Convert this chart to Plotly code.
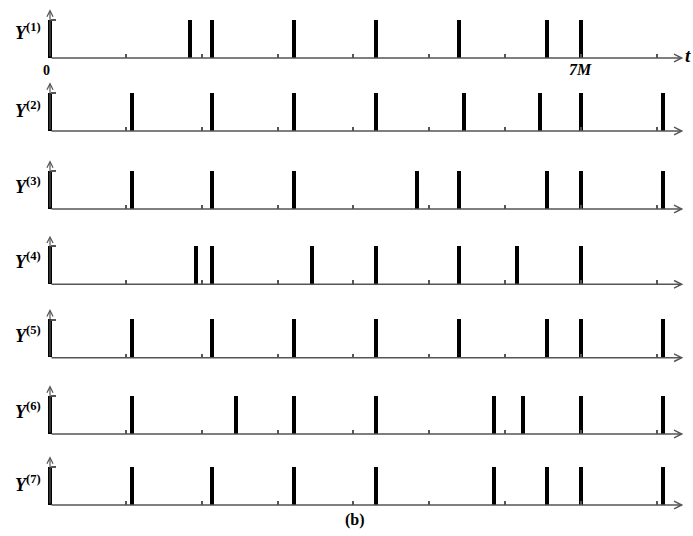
import plotly.graph_objects as go

# spike times (in units of M) for each series
row_labels = ["(1)", "(2)", "(3)", "(4)", "(5)", "(6)", "(7)"]
y1 = [0, 1.85, 2.14, 3.22, 4.30, 5.39, 6.55, 7.0]
y2 = [0, 1.08, 2.14, 3.22, 4.30, 5.46, 6.46, 7.0, 8.08]
y3 = [0, 1.08, 2.14, 3.22, 4.84, 5.39, 6.55, 7.0, 8.08]
y4 = [0, 1.92, 2.14, 3.45, 4.30, 5.39, 6.16, 7.0]
y5 = [0, 1.08, 2.14, 3.22, 4.30, 5.39, 6.55, 7.0, 8.08]
y6 = [0, 1.08, 2.45, 3.22, 4.30, 5.85, 6.23, 7.0, 8.08]
y7 = [0, 1.08, 2.14, 3.22, 4.30, 5.85, 6.55, 7.0, 8.08]
series = [y1, y2, y3, y4, y5, y6, y7]
tick_vals = [1, 2, 3, 4, 5, 6, 7, 8]
axis_labels = ["0", "7M"]
axis_label_pos = [0, 7]

W, H = 693, 536
X0 = 50.0          # pixel of t = 0
SCALE = 75.85      # pixels per M
UNIT = 38.0        # pixels per spike height
YTOP = 1.3
bases = [58, 131, 209, 284.3, 357.7, 434, 505]
label_off = [26, 21, 23, 24, 23, 24, 22]   # pixels above baseline
AX_END = 8.35
GRAY = "#555555"
SERIF = "Liberation Serif"


def px_x(t):
    return (X0 + t * SCALE) / W


fig = go.Figure()
xr = [-X0 / SCALE, (W - X0) / SCALE]
annotations = []
for i, (times, b) in enumerate(zip(series, bases)):
    n = i + 1
    xa = "x" if n == 1 else f"x{n}"
    ya = "y" if n == 1 else f"y{n}"
    fig.add_trace(go.Bar(
        x=times, y=[1] * len(times), width=0.054,
        marker=dict(color="black", line=dict(width=0)),
        xaxis=xa, yaxis=ya, showlegend=False, hoverinfo="x",
    ))
    bot = 1 - b / H
    top = 1 - (b - YTOP * UNIT) / H
    xkey = "xaxis" if n == 1 else f"xaxis{n}"
    ykey = "yaxis" if n == 1 else f"yaxis{n}"
    fig.layout[xkey] = dict(
        domain=[0, 1], range=xr, anchor=ya, showgrid=False, zeroline=False,
        showline=False, showticklabels=False, ticks="inside",
        tickvals=tick_vals, ticklen=4, tickwidth=1.5, tickcolor=GRAY,
    )
    fig.layout[ykey] = dict(
        domain=[bot, top], range=[0, YTOP], anchor="free", position=X0 / W,
        showgrid=False, zeroline=False, showline=False, showticklabels=False,
        ticks="inside", tickvals=[1], ticklen=5, tickwidth=1.5, tickcolor=GRAY,
    )
    # horizontal time axis with arrow
    annotations.append(dict(
        x=AX_END, y=0, ax=0, ay=0, xref=xa, yref=ya, axref=xa, ayref=ya,
        showarrow=True, arrowhead=5, arrowsize=1, arrowwidth=1.5,
        arrowcolor=GRAY, text="",
    ))
    # vertical amplitude axis with arrow
    annotations.append(dict(
        x=0, y=1.28, ax=0, ay=0, xref=xa, yref=ya, axref=xa, ayref=ya,
        showarrow=True, arrowhead=5, arrowsize=1, arrowwidth=1.2,
        arrowcolor=GRAY, text="",
    ))
    annotations.append(dict(
        x=43 / W, xref="paper", y=1 - (b - label_off[i]) / H, yref="paper",
        xanchor="right", yanchor="middle", showarrow=False,
        text=f"<b><i>Y</i></b><sup><b>{row_labels[i]}</b></sup>",
        font=dict(family=SERIF, size=18, color="black"),
    ))

annotations.append(dict(x=px_x(axis_label_pos[0]) - 3 / W, y=1 - 70 / H,
                        xref="paper", yref="paper", showarrow=False,
                        text=f"<b>{axis_labels[0]}</b>", xanchor="center",
                        yanchor="middle",
                        font=dict(family=SERIF, size=14, color="black")))
annotations.append(dict(x=px_x(axis_label_pos[1]), y=1 - 69 / H,
                        xref="paper", yref="paper", showarrow=False,
                        text=f"<b><i>{axis_labels[1]}</i></b>", xanchor="center",
                        yanchor="middle",
                        font=dict(family=SERIF, size=16, color="black")))
annotations.append(dict(x=1.0, y=1 - 56 / H, xref="paper", yref="paper",
                        showarrow=False, text="<b><i>t</i></b>",
                        xanchor="right", yanchor="middle",
                        font=dict(family=SERIF, size=19, color="black")))
annotations.append(dict(x=355 / W, y=1 - 520 / H, xref="paper", yref="paper",
                        showarrow=False, text="<b>(b)</b>", xanchor="center",
                        yanchor="middle",
                        font=dict(family=SERIF, size=16, color="black")))

fig.update_layout(
    width=W, height=H, margin=dict(l=0, r=0, t=0, b=0),
    paper_bgcolor="white", plot_bgcolor="white",
    annotations=annotations, bargap=0,
)
fig.write_html("out.html", config={"displayModeBar": False},
               post_script="document.body.style.margin='0';document.body.style.overflow='hidden';")
